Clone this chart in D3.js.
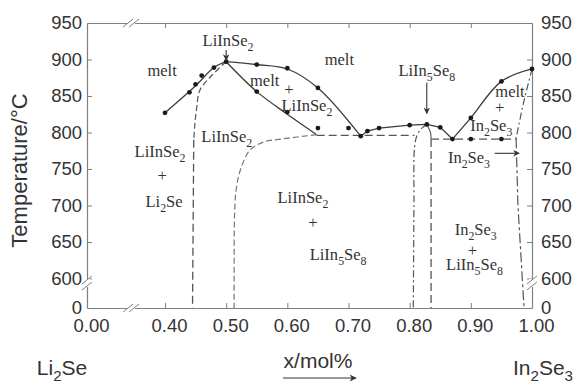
<!DOCTYPE html>
<html>
<head>
<meta charset="utf-8">
<script src="https://cdn.jsdelivr.net/npm/d3@7"></script>
<style>
  body { margin: 0; background: #fff; }
  svg text { font-family: "Liberation Sans", Arial, sans-serif; fill: #333; }
  svg text.lbl { font-family: "Liberation Serif", "Times New Roman", serif; fill: #333; }
</style>
</head>
<body>
<svg id="chart" width="580" height="381"></svg>
<script>
// x = mole fraction In2Se3, T in °C
const tempTicks = [0, 600, 650, 700, 750, 800, 850, 900, 950];
const xTicks = [0, 0.4, 0.5, 0.6, 0.7, 0.8, 0.9, 1.0];
const xTickLabels = ["0.00", "0.40", "0.50", "0.60", "0.70", "0.80", "0.90", "1.00"];

// measured points (DTA)
const dots = [
  [0.40, 827], [0.44, 855], [0.45, 866], [0.46, 878], [0.48, 889], [0.50, 897],
  [0.55, 893], [0.60, 888], [0.65, 861],
  [0.55, 856], [0.60, 828], [0.65, 806], [0.70, 806],
  [0.72, 795], [0.731, 802], [0.75, 806], [0.80, 810], [0.828, 811], [0.85, 807],
  [0.87, 791], [0.90, 820], [0.95, 870], [1.00, 887], [0.90, 791], [0.95, 791]
];

// solid liquidus lines
const liquidusLeft = [[0.40, 827], [0.45, 864], [0.48, 889], [0.50, 897]];
const liquidusOuter = [[0.50, 897], [0.55, 893], [0.60, 887], [0.65, 861], [0.72, 795]];
const liquidusInner = [[0.50, 897], [0.55, 856], [0.60, 825], [0.648, 797]];
const liquidusMid = [[0.72, 795], [0.731, 802], [0.75, 806], [0.80, 810], [0.828, 811], [0.85, 807], [0.87, 791]];
const liquidusRight = [[0.87, 791], [0.90, 820], [0.95, 870], [1.00, 887]];

// dashed boundaries
const solvusLeftTop = [[0.50, 897], [0.474, 876], [0.457, 858], [0.452, 835], [0.449, 813], [0.447, 790]];
const solvusLeftVert = [[0.447, 790], [0.445, 0]];
const solvusLiInSe2 = [[0.648, 797], [0.59, 791], [0.561, 787], [0.539, 776], [0.525, 753], [0.517, 726], [0.514, 694], [0.513, 600], [0.513, 0]];
const eutecticLeft = [[0.648, 796], [0.808, 796]];
const li5LeftCurve = [[0.828, 811], [0.82, 806], [0.812, 796], [0.808, 780], [0.807, 700], [0.806, 0]];
const li5RightCurve = [[0.828, 811], [0.834, 800], [0.835, 791]];
const li5RightVert = [[0.835, 791], [0.835, 0]];
const eutecticRight = [[0.835, 791], [0.974, 791]];
const in2Se3Top = [[1.00, 887], [0.986, 840], [0.974, 792]];
const in2Se3Vert = [[0.974, 792], [0.977, 700], [0.987, 0]];

// phase labels: text, x, T (baseline)
const phaseLabels = [
  ["LiInSe_2", 0.503, 918.5],
  ["melt", 0.385, 877],
  ["melt", 0.563, 864],
  ["+", 0.6026, 851],
  ["LiInSe_2", 0.632, 829.5],
  ["melt", 0.685, 892.5],
  ["LiIn_5Se_8", 0.828, 877],
  ["LiInSe_2", 0.501, 787],
  ["LiInSe_2", 0.3744, 766.4],
  ["+", 0.386, 733.3],
  ["Li_2Se", 0.395, 698],
  ["LiInSe_2", 0.6255, 703.4],
  ["+", 0.642, 669.4],
  ["LiIn_5Se_8", 0.683, 625.3],
  ["melt", 0.964, 849],
  ["+", 0.947, 827],
  ["In_2Se_3", 0.9335, 802],
  ["In_2Se_3", 0.897, 757.8],
  ["In_2Se_3", 0.908, 659.6],
  ["+", 0.9025, 630.5],
  ["LiIn_5Se_8", 0.906, 611.6]
];

// pointer arrows: from [x,T] to [x,T]
const arrows = [
  [[0.50, 913], [0.50, 899]],
  [[0.828, 868], [0.828, 826]],
  [[0.939, 771.5], [0.979, 771.5]]
];

const svg = d3.select("#chart");

// broken axes: 0..0.40 squeezed, 0..600 squeezed
const x = d3.scaleLinear().domain([0, 0.4, 1.0]).range([87, 165, 532]);
const y = d3.scaleLinear().domain([0, 600, 950]).range([308, 278.5, 23]);

const axisColor = "#808080";

function styleAxis(g) {
  g.select(".domain").attr("stroke", axisColor).attr("stroke-width", 1.2);
  g.selectAll(".tick line").attr("stroke", axisColor).attr("stroke-width", 1);
  g.selectAll(".tick text").style("font-size", "18.5px").attr("fill", "#333");
}

svg.append("g")
  .attr("transform", `translate(${x(0)},0)`)
  .call(d3.axisLeft(y).tickValues(tempTicks).tickSizeInner(-5).tickSizeOuter(0).tickPadding(5))
  .call(styleAxis)
  .call(g => g.selectAll(".tick").filter(d => d === 0 || d === 950).select("line").remove());

svg.append("g")
  .attr("transform", `translate(${x(1)},0)`)
  .call(d3.axisRight(y).tickValues(tempTicks).tickSizeInner(-5).tickSizeOuter(0).tickPadding(9))
  .call(styleAxis)
  .call(g => g.selectAll(".tick").filter(d => d === 0 || d === 950).select("line").remove());

svg.append("g")
  .attr("transform", `translate(0,${y(0)})`)
  .call(d3.axisBottom(x).tickValues(xTicks).tickFormat((d, i) => xTickLabels[i]).tickSizeInner(-5).tickSizeOuter(0).tickPadding(11))
  .call(styleAxis)
  .call(g => g.selectAll(".tick text").attr("dx", 4))
  .call(g => g.selectAll(".tick").filter(d => d === 0 || d === 1).select("line").remove());

svg.append("g")
  .attr("transform", `translate(0,${y(950)})`)
  .call(d3.axisTop(x).tickValues(xTicks.filter(d => d > 0 && d < 1)).tickFormat("").tickSizeInner(-5).tickSizeOuter(0))
  .call(styleAxis);

// axis break marks
function breakH(cx, cy) {
  svg.append("rect").attr("x", cx - 4).attr("y", cy - 3).attr("width", 8).attr("height", 6).attr("fill", "#fff");
  [-3, 3].forEach(o => {
    svg.append("line")
      .attr("x1", cx + o - 5).attr("y1", cy + 4).attr("x2", cx + o + 5).attr("y2", cy - 4)
      .attr("stroke", axisColor).attr("stroke-width", 1);
  });
}
function breakV(cx, cy) {
  svg.append("rect").attr("x", cx - 3).attr("y", cy - 4).attr("width", 6).attr("height", 8).attr("fill", "#fff");
  [-3, 3].forEach(o => {
    svg.append("line")
      .attr("x1", cx - 5).attr("y1", cy + o + 4).attr("x2", cx + 5).attr("y2", cy + o - 4)
      .attr("stroke", axisColor).attr("stroke-width", 1);
  });
}
breakH(x(0.226), y(950));
breakH(x(0.226), y(0));
breakV(x(0), y(510));
breakV(x(1), y(510));

// lines
const lineLin = d3.line().x(d => x(d[0])).y(d => y(d[1]));
const lineSmooth = d3.line().x(d => x(d[0])).y(d => y(d[1])).curve(d3.curveCatmullRom.alpha(0.5));

function draw(data, gen, dash, color, width) {
  svg.append("path").datum(data)
    .attr("d", gen)
    .attr("fill", "none")
    .attr("stroke", color)
    .attr("stroke-width", width)
    .attr("stroke-dasharray", dash);
}

const solid = "#3c3c3c", dashed = "#555", dashDot = "7,3,2,3", longDash = "8,4";

draw(liquidusLeft, lineSmooth, null, solid, 1.3);
draw(liquidusOuter, lineSmooth, null, solid, 1.3);
draw(liquidusInner, lineSmooth, null, solid, 1.3);
draw(liquidusMid, lineLin, null, solid, 1.3);
draw(liquidusRight, lineSmooth, null, solid, 1.3);

draw(solvusLeftTop, lineSmooth, "6,3", dashed, 1.2);
draw(solvusLeftVert, lineLin, longDash, dashed, 1.3);
draw(solvusLiInSe2, lineSmooth, "6,3", "#777", 1.2);
draw(eutecticLeft, lineLin, longDash, dashed, 1.2);
draw(li5LeftCurve, lineSmooth, dashDot, dashed, 1.2);
draw(li5RightCurve, lineSmooth, null, dashed, 1.1);
draw(li5RightVert, lineLin, longDash, dashed, 1.3);
draw(eutecticRight, lineLin, longDash, dashed, 1.2);
draw(in2Se3Top, lineSmooth, dashDot, dashed, 1.2);
draw(in2Se3Vert, lineLin, "10,3,3,3", dashed, 1.2);

// data points
svg.append("g").selectAll("circle")
  .data(dots)
  .join("circle")
  .attr("cx", d => x(d[0]))
  .attr("cy", d => y(d[1]))
  .attr("r", 2.4)
  .attr("fill", "#1a1a1a");

// arrows
svg.append("defs").append("marker")
  .attr("id", "head")
  .attr("viewBox", "0 0 10 10")
  .attr("refX", 9).attr("refY", 5)
  .attr("markerWidth", 6).attr("markerHeight", 6)
  .attr("orient", "auto")
  .append("path").attr("d", "M0,0L10,5L0,10L3,5Z").attr("fill", "#333");

svg.append("g").selectAll("line")
  .data(arrows)
  .join("line")
  .attr("x1", d => x(d[0][0])).attr("y1", d => y(d[0][1]))
  .attr("x2", d => x(d[1][0])).attr("y2", d => y(d[1][1]))
  .attr("stroke", "#333").attr("stroke-width", 1.1)
  .attr("marker-end", "url(#head)");

// text with subscripts, "_n" marks a subscript digit
function richText(g, str, px, py, size, cls) {
  const t = g.append("text").attr("x", px).attr("y", py).attr("text-anchor", "middle").style("font-size", size + "px");
  if (cls) t.attr("class", cls);
  let shifted = false;
  str.split(/(_\d)/).filter(s => s).forEach(p => {
    if (p[0] === "_") {
      t.append("tspan").attr("dy", size * 0.3).style("font-size", (size * 0.72) + "px").text(p.slice(1));
      shifted = true;
    } else {
      t.append("tspan").attr("dy", shifted ? -size * 0.3 : 0).text(p);
      shifted = false;
    }
  });
  return t;
}

const lab = svg.append("g");
phaseLabels.forEach(d => richText(lab, d[0], x(d[1]), y(d[2]), 16.5, "lbl"));

// axis titles
svg.append("text")
  .attr("transform", `translate(27,${(y(950) + y(0)) / 2 + 5}) rotate(-90)`)
  .attr("text-anchor", "middle")
  .style("font-size", "22px")
  .text("Temperature/°C");

richText(svg, "Li_2Se", 62, 375, 21, null);
richText(svg, "In_2Se_3", 543, 375, 21, null);
svg.append("text").attr("x", 318).attr("y", 368).attr("text-anchor", "middle").style("font-size", "21px").text("x/mol%");
svg.append("line")
  .attr("x1", 283).attr("y1", 378).attr("x2", 356).attr("y2", 378)
  .attr("stroke", "#333").attr("stroke-width", 1.2)
  .attr("marker-end", "url(#head)");
</script>
</body>
</html>
